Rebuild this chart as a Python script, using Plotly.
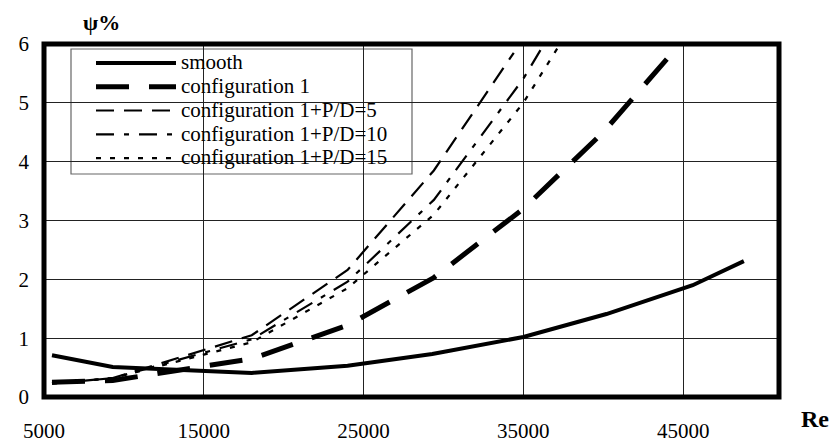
import plotly.graph_objects as go

# Reynolds number and pressure-loss increase (psi, %) for each surface
re_smooth = [5500, 9300, 18000, 24000, 29300, 35000, 40200, 45600, 48800]
psi_smooth = [0.71, 0.51, 0.41, 0.53, 0.73, 1.02, 1.41, 1.90, 2.31]

re_conf1 = [5500, 9300, 18000, 24000, 29400, 35000, 40000, 44800]
psi_conf1 = [0.25, 0.28, 0.65, 1.22, 2.03, 3.20, 4.50, 6.00]

re_pd5 = [5500, 9300, 18000, 24000, 29400, 34400]
psi_pd5 = [0.23, 0.32, 1.05, 2.16, 3.85, 5.85]

re_pd10 = [5500, 9300, 18000, 24000, 29400, 35000, 36300]
psi_pd10 = [0.23, 0.32, 0.98, 1.96, 3.35, 5.41, 6.00]

re_pd15 = [5500, 9300, 18000, 24000, 29400, 35000, 37300]
psi_pd15 = [0.23, 0.32, 0.93, 1.85, 3.10, 5.00, 6.00]

x_ticks = [5000, 15000, 25000, 35000, 45000]
x_tick_text = ["5000", "15000", "25000", "35000", "45000"]
y_ticks = [0, 1, 2, 3, 4, 5, 6]
y_tick_text = ["0", "1", "2", "3", "4", "5", "6"]

FONT = "Liberation Serif"
W, H = 832, 443
ML, MR, MT, MB = 44, 53, 44, 46


def lbl(s):
    return f'<span style="font-size:21px">{s}</span>'


series = [
    ("smooth", re_smooth, psi_smooth, dict(width=4, dash="solid")),
    ("configuration 1", re_conf1, psi_conf1, dict(width=5, dash="33px,20px")),
    ("configuration 1+P/D=5", re_pd5, psi_pd5, dict(width=2.2, dash="18px,10px")),
    ("configuration 1+P/D=10", re_pd10, psi_pd10, dict(width=2.2, dash="18px,10px,5px,10px")),
    ("configuration 1+P/D=15", re_pd15, psi_pd15, dict(width=2.2, dash="5px,9px")),
]

fig = go.Figure()
for name, xs, ys, ln in series:
    fig.add_trace(go.Scatter(
        x=xs, y=ys, mode="lines", name=lbl(name),
        line=dict(color="black", **ln),
    ))


def px_to_paper_x(px):
    return (px - ML) / (W - ML - MR)


def px_to_paper_y(py):
    return 1 - (py - MT) / (H - MT - MB)


fig.update_layout(
    width=W, height=H,
    margin=dict(l=ML, r=MR, t=MT, b=MB),
    paper_bgcolor="white", plot_bgcolor="white",
    font=dict(family=FONT, color="black", size=21),
    showlegend=True,
    legend=dict(
        x=px_to_paper_x(91), y=px_to_paper_y(46), xanchor="left", yanchor="top",
        bgcolor="rgba(0,0,0,0)", borderwidth=0,
        itemwidth=80, font=dict(family=FONT, size=16, color="black"),
    ),
    xaxis=dict(
        range=[5000, 51000], tickvals=x_ticks, ticktext=x_tick_text, showgrid=True,
        gridcolor="#222", gridwidth=1, zeroline=False, showline=False,
        ticks="", ticklabelstandoff=19, tickfont=dict(size=21, family=FONT),
        automargin=False,
    ),
    yaxis=dict(
        range=[0, 6], tickvals=y_ticks, ticktext=y_tick_text, showgrid=True,
        gridcolor="#222", gridwidth=1, zeroline=False, showline=False,
        ticks="", ticklabelstandoff=14, tickfont=dict(size=21, family=FONT),
        automargin=False,
    ),
    shapes=[
        # legend panel
        dict(type="rect", xref="paper", yref="paper",
             x0=px_to_paper_x(71), x1=px_to_paper_x(412),
             y0=px_to_paper_y(174), y1=px_to_paper_y(49),
             fillcolor="white", line=dict(color="#666", width=1.2), layer="between"),
        # heavy frame around the plotting area
        dict(type="rect", xref="paper", yref="paper", x0=0, x1=1, y0=0, y1=1,
             line=dict(color="black", width=5), layer="above"),
    ],
    annotations=[
        dict(text="<b>ψ%</b>", xref="paper", yref="paper",
             x=px_to_paper_x(101), y=px_to_paper_y(23), showarrow=False,
             xanchor="center", yanchor="middle",
             font=dict(size=22, family=FONT)),
        dict(text="<b>Re</b>", xref="paper", yref="paper",
             x=px_to_paper_x(815), y=px_to_paper_y(419), showarrow=False,
             xanchor="center", yanchor="middle",
             font=dict(size=24, family=FONT)),
    ],
)

fig.write_html("out.html")
